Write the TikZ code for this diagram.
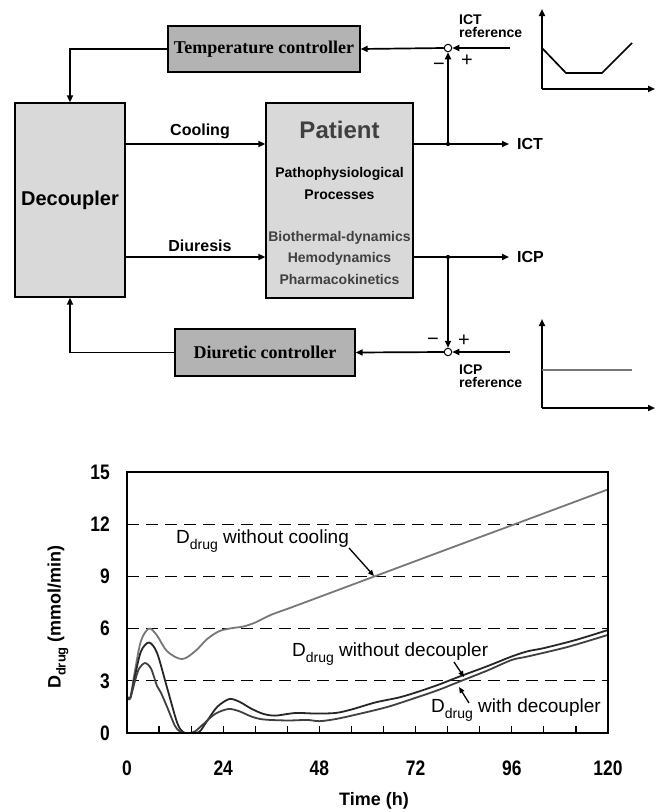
\documentclass[tikz,border=0pt]{standalone}
\usepackage{fontspec}
\setmainfont{Liberation Sans}
\newfontfamily\serifbf{Liberation Serif}[BoldFont={Liberation Serif Bold}]
\usetikzlibrary{arrows.meta}

\definecolor{boxlight}{HTML}{D9D9D9}
\definecolor{boxdark}{HTML}{B3B3B3}
\definecolor{txtgray}{HTML}{404040}
\definecolor{curvegray}{HTML}{777777}
\definecolor{curvedark}{HTML}{262626}
\definecolor{curvemid}{HTML}{404040}

\newcommand\fsz[1]{\fontsize{#1}{#1}\selectfont}
\newcommand\ddrug[2]{D\raisebox{-#2}{\fsz{#1}drug}}

\begin{document}
\begin{tikzpicture}[x=1pt,y=-1pt,
  blockbox/.style={draw, line width=1.3pt, inner sep=0pt},
  lightblock/.style={blockbox, fill=boxlight},
  darkblock/.style={blockbox, fill=boxdark},
  wire/.style={line width=1.7pt},
  conn/.style={wire, -{Triangle[length=7pt,width=6pt]}},
  sumnode/.style={circle, draw, fill=white, line width=1pt, minimum size=7.5pt, inner sep=0pt},
  dotnode/.style={circle, fill, minimum size=4pt, inner sep=0pt},
  lbl/.style={inner sep=0pt, font=\fsz{16}\bfseries},
  reflbl/.style={inner sep=0pt, anchor=west, align=left, font=\fsz{14}\bfseries},
  pm/.style={inner sep=0pt, font=\fsz{20}},
  gridl/.style={line width=1.1pt, dash pattern=on 12pt off 7pt},
  annot/.style={line width=1.3pt, -{Triangle[length=6pt,width=5pt]}},
  curve/.style={line width=1.8pt, line join=round}
]
\useasboundingbox (0,0) rectangle (656,812);

% ---------- block diagram ----------
\node[lightblock, minimum width=110pt, minimum height=194pt] (dec) at (70,200)
  {\fsz{20}\bfseries Decoupler};
\node[lightblock, minimum width=147pt, minimum height=195pt] (pat) at (339.5,200.5) {};
\node[darkblock, minimum width=192pt, minimum height=46pt] (tc) at (264,49)
  {\serifbf\fsz{18}\bfseries Temperature controller};
\node[darkblock, minimum width=180pt, minimum height=47pt] (dc) at (265,352.5)
  {\serifbf\fsz{18}\bfseries Diuretic controller};

% text inside the patient block
\node[inner sep=0pt, text=txtgray, font=\fsz{24}\bfseries] (pt1) at (339.5,130) {Patient};
\node[inner sep=0pt, font=\fsz{14}\bfseries] (pt2) at (339.5,174) {Pathophysiological};
\node[inner sep=0pt, font=\fsz{14}\bfseries] (pt3) at (339.5,195) {Processes};
\node[inner sep=0pt, text=txtgray, font=\fsz{14}\bfseries] (pt4) at (339.5,238) {Biothermal-dynamics};
\node[inner sep=0pt, text=txtgray, font=\fsz{14}\bfseries] (pt5) at (339.5,259) {Hemodynamics};
\node[inner sep=0pt, text=txtgray, font=\fsz{14}\bfseries] (pt6) at (339.5,279) {Pharmacokinetics};

% summing points, branch points and free ends
\node[dotnode] (jT) at (448,144) {};
\node[dotnode] (jP) at (448,257) {};
\node[sumnode] (sumT) at (448,48) {};
\node[sumnode] (sumP) at (448,352) {};
\coordinate (outT) at (509,144);
\coordinate (outP) at (509,257);
\coordinate (refT) at (510,48);
\coordinate (refP) at (510,352);

% forward paths
\draw[conn] (dec.east |- jT) -- (pat.west |- jT);
\draw[conn] (dec.east |- jP) -- (pat.west |- jP);
\draw[conn] (pat.east |- jT) -- (outT);
\draw[conn] (pat.east |- jP) -- (outP);
\node[lbl] (lcool) at (200,131) {Cooling};
\node[lbl] (ldiu) at (200,246) {Diuresis};
\node[lbl, anchor=west] (lict) at (517,144) {ICT};
\node[lbl, anchor=west] (licp) at (517,257) {ICP};

% temperature loop
\draw[conn] (jT) -- (sumT.south);
\draw[conn] (refT) -- (sumT.east);
\draw[conn] (sumT.west) -- (tc.east);
\draw[conn] (tc.west) -| (dec.north);
\node[pm] (mT) at (439,67) {\textminus};
\node[pm] (pT) at (467,61) {+};
\node[reflbl] (rT) at (459,26.5) {ICT\\[-1pt]reference};

% pressure loop
\draw[conn] (jP) -- (sumP.north);
\draw[conn] (refP) -- (sumP.east);
\draw[conn] (sumP.west) -- (dc.east);
\draw[conn] (dc.west) -| (dec.south);
\node[pm] (mP) at (433,342) {\textminus};
\node[pm] (pP) at (464,341) {+};
\node[reflbl] (rP) at (459,376) {ICP\\[-1pt]reference};

\node[dotnode] at (jT) {};
\node[dotnode] at (jP) {};

% reference profiles
\draw[conn] (542,89) -- (542,9);
\draw[conn] (542,89) -- (655,89);
\draw[wire, line join=miter] (542,48) -- (566,73) -- (602,73) -- (632,43);
\draw[conn] (542,408) -- (542,319);
\draw[conn] (542,408) -- (655,408);
\draw[wire, draw=curvegray] (542,370) -- (632,370);

% ---------- dosing chart ----------
\begin{scope}[shift={(127,733)}, x=4.00833pt, y=17.4pt]
  \foreach \v in {3,6,9,12} \draw[gridl] (0,\v) -- (120,\v);
  \foreach \t in {8,16,...,112} \draw[line width=1.2pt] (\t,0) -- (\t,0.42);
  \foreach \v in {0,3,...,15}
    \node[anchor=east, inner sep=0pt, xshift=-17pt] (yl\v) at (0,\v)
      {\scalebox{0.83}[1]{\fsz{21}\bfseries\v}};
  \foreach \t in {0,24,...,120}
    \node[inner sep=0pt, yshift=-35pt] (xl\t) at (\t,0)
      {\scalebox{0.83}[1]{\fsz{21}\bfseries\t}};

  \begin{scope}
    \clip (0,0) rectangle (120,15);
    % without cooling
    \draw[curve, draw=curvegray] plot[smooth, tension=0.55] coordinates {
      (0,2.1) (0.8,2.0) (2,3.6) (3.5,5.3) (5.5,6.0) (7.5,5.6) (10,4.7)
      (13.7,4.25) (17,4.7) (20,5.4) (23,5.85) (26,6.02) (29,6.12) (32,6.35)
      (36,6.8) (41.5,7.26) (60,8.85) (80,10.57) (100,12.28) (120,14.0)};
    % without decoupler
    \draw[curve, draw=curvedark] plot[smooth, tension=0.5] coordinates {
      (0,2.1) (0.8,2.0) (2,3.3) (3.5,4.7) (5.5,5.2) (7.5,4.6) (10,2.6)
      (12.5,0.6) (14,0.05) (16,0) (18,0.05) (20,0.7) (22.5,1.5) (25.5,1.95)
      (28,1.8) (31,1.4) (34,1.1) (37,1.0) (42,1.15) (47,1.12) (52,1.15)
      (56,1.35) (62,1.76) (68,2.05) (73,2.4) (78,2.8) (83,3.25) (90,3.85)
      (96,4.4) (100,4.7) (104,4.88) (112,5.35) (120,5.92)};
    % with decoupler
    \draw[curve, draw=curvemid] plot[smooth, tension=0.5] coordinates {
      (0,2.1) (0.8,2.0) (2,3.0) (3,3.7) (4.5,4.02) (6,3.7) (7.5,2.7)
      (8.5,2.3) (10,1.5) (12,0.4) (13.5,0.05) (15.5,0) (17,0.1) (19,0.5)
      (22,1.1) (25.3,1.38) (28,1.25) (31,0.95) (34,0.78) (40,0.72) (45,0.75)
      (48,0.68) (52,0.8) (57,1.05) (65,1.5) (73,2.1) (78,2.5) (83,2.96)
      (90,3.6) (96,4.2) (100,4.4) (110,4.95) (120,5.64)};
  \end{scope}

  \draw[line width=1.5pt] (0,0) rectangle (120,15);
\end{scope}

% chart labels and annotations
\node[inner sep=0pt, font=\fsz{18}\bfseries] (xt) at (374,801) {Time (h)};
\node[inner sep=0pt, rotate=90, font=\fsz{18}\bfseries] (yt) at (58,617)
  {\ddrug{13}{5pt} (mmol/min)};

\node[inner sep=0pt, anchor=west, font=\fsz{19}] (a1) at (176,541) {\ddrug{14}{6pt} without cooling};
\node[inner sep=0pt, anchor=west, font=\fsz{19}] (a2) at (292,654) {\ddrug{14}{6pt} without decoupler};
\node[inner sep=0pt, anchor=west, font=\fsz{19}] (a3) at (431,710) {\ddrug{14}{6pt} with decoupler};
\coordinate (a1s) at (349,548);
\coordinate (a1e) at (374,576);
\coordinate (a2s) at (454,662);
\coordinate (a2e) at (464,677);
\coordinate (a3s) at (469,703);
\coordinate (a3e) at (459,687);
\draw[annot] (a1s) -- (a1e);
\draw[annot] (a2s) -- (a2e);
\draw[annot] (a3s) -- (a3e);
\end{tikzpicture}
\end{document}
